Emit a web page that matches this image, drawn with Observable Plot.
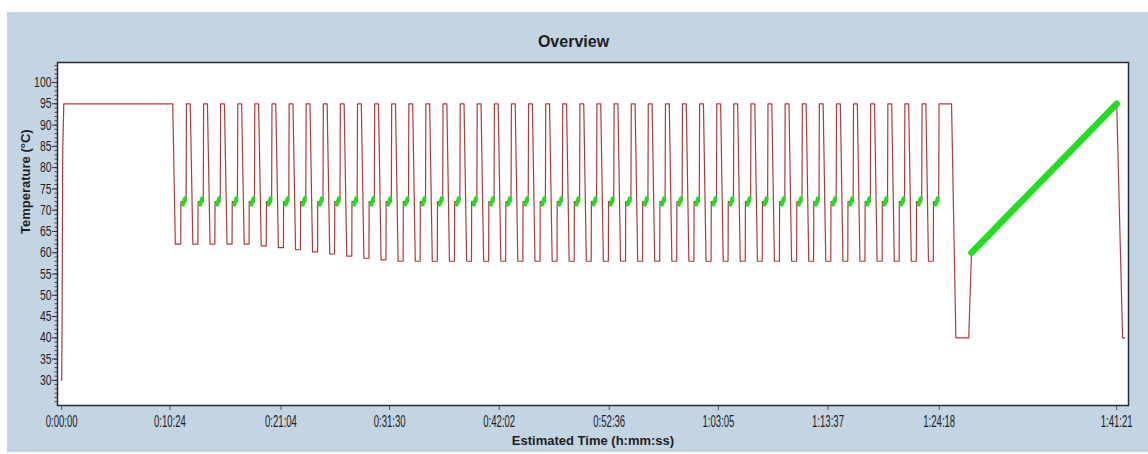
<!DOCTYPE html>
<html><head><meta charset="utf-8">
<script src="https://cdn.jsdelivr.net/npm/d3@7"></script>
<script src="https://cdn.jsdelivr.net/npm/@observablehq/plot@0.6"></script>
<style>
html,body{margin:0;padding:0;background:#fff;}
#panel{position:absolute;left:7px;top:12px;width:1141px;height:440px;background:#c3d5e3;}
#chart{position:absolute;left:0;top:0;width:1148px;height:454px;}
</style></head><body>
<div id="panel"></div><div id="chart"></div>
<script>
// ---- data (seconds, °C) ----
const xTickTimes = [0, 624, 1264, 1890, 2522, 3156, 3785, 4417, 5058, 6081];
const yTickValues = [30, 35, 40, 45, 50, 55, 60, 65, 70, 75, 80, 85, 90, 95, 100];
const yMinorValues = d3.range(25, 105);

const startTimes = [0, 2, 6, 12, 640];
const startTemps = [30, 42, 84, 95, 95];

// start time of each 95 °C denaturation step (45 cycles)
const peakStarts = [719, 818, 916, 1015, 1113, 1212, 1311, 1409, 1508, 1606,
  1705, 1804, 1902, 2001, 2099, 2198, 2297, 2395, 2494, 2592,
  2691, 2790, 2888, 2987, 3085, 3184, 3283, 3381, 3480, 3578,
  3677, 3776, 3874, 3973, 4071, 4170, 4269, 4367, 4466, 4564,
  4663, 4762, 4860, 4959, 5057];
// annealing temperature before each denaturation step (touchdown)
const annealTemps = [62, 62, 62, 62, 62, 61.6, 61.2, 60.7, 60.2, 59.7,
  59.2, 58.7, 58.3, 58, 58, 58, 58, 58, 58, 58,
  58, 58, 58, 58, 58, 58, 58, 58, 58, 58,
  58, 58, 58, 58, 58, 58, 58, 58, 58, 58,
  58, 58, 58, 58, 58];
const extensionTemp = 72;
const denatureTemp = 95;

const endTimes = [5129, 5154, 5228, 5244, 6081, 6115, 6127];
const endTemps = [95, 40, 40, 60, 95, 40, 40];

const meltTimes = [5244, 6081];
const meltTemps = [60, 95];

// ---- build tables ----
const profile = [];
startTimes.forEach((t, i) => profile.push({t, temp: startTemps[i]}));
let topEnd = startTimes[startTimes.length - 1];
peakStarts.forEach((P, i) => {
  const b = annealTemps[i];
  profile.push({t: topEnd + 15, temp: b});
  profile.push({t: P - 33, temp: b});
  profile.push({t: P - 32, temp: extensionTemp});
  profile.push({t: P - 2, temp: extensionTemp});
  profile.push({t: P, temp: denatureTemp});
  topEnd = P + 22;
  if (i < peakStarts.length - 1) profile.push({t: topEnd, temp: denatureTemp});
});
endTimes.forEach((t, i) => profile.push({t, temp: endTemps[i]}));

const reads = peakStarts.map(P => ({x1: P - 20, y1: extensionTemp - 0.7, x2: P - 8, y2: extensionTemp + 0.8}));
const melt = meltTimes.map((t, i) => ({t, temp: meltTemps[i]}));

const fmt = s => `${Math.floor(s / 3600)}:${String(Math.floor(s % 3600 / 60)).padStart(2, "0")}:${String(s % 60).padStart(2, "0")}`;

const svg = Plot.plot({
  width: 1148, height: 454,
  marginLeft: 57, marginRight: 20, marginTop: 62, marginBottom: 49,
  style: {background: "transparent", fontFamily: "'Liberation Sans', Arial, sans-serif", color: "#1e1e1e", overflow: "visible"},
  x: {domain: [-24.2, 6149], label: null},
  y: {domain: [24.1, 104.7], label: null},
  marks: [
    Plot.frame({fill: "white", stroke: null}),
    Plot.axisY(yMinorValues, {tickSize: 2.5, fill: "none", label: null, stroke: "#444"}),
    Plot.axisY(yTickValues, {tickSize: 5, tickPadding: 1, fontSize: 14.5, label: null, stroke: "#333"}),
    Plot.axisX(xTickTimes, {tickSize: 5, tickPadding: 4.5, fontSize: 16.5, tickFormat: fmt, label: null, stroke: "#555"}),
    Plot.line(profile, {x: "t", y: "temp", stroke: "#b03a3a", strokeWidth: 1.2}),
    Plot.link(reads, {x1: "x1", y1: "y1", x2: "x2", y2: "y2", stroke: "#22dd22", strokeWidth: 4, strokeLinecap: "round"}),
    Plot.line(melt, {x: "t", y: "temp", stroke: "#22dd22", strokeWidth: 6.5, strokeLinecap: "round"}),
    Plot.frame({stroke: "#2b2b2b", strokeWidth: 1.5}),
    Plot.text(["Overview"], {frameAnchor: "top", dx: -19.5, dy: -15.5, lineAnchor: "bottom", fontWeight: "bold", fontSize: 16, ariaLabel: "title"}),
    Plot.text(["Estimated Time (h:mm:ss)"], {frameAnchor: "bottom", dy: 39, lineAnchor: "bottom", fontWeight: "bold", fontSize: 13, ariaLabel: "xlabel"}),
    Plot.text(["Temperature (°C)"], {frameAnchor: "left", dx: -27.5, rotate: -90, lineAnchor: "bottom", fontWeight: "bold", fontSize: 13, ariaLabel: "ylabel"})
  ]
});
document.getElementById("chart").append(svg);

// horizontally condense the text along its own direction
function squeeze(sel, ratio) {
  svg.querySelectorAll(sel).forEach(t => {
    const x = +(t.getAttribute("x") || 0);
    const T = t.getAttribute("transform") || "";
    t.setAttribute("transform", `${T} translate(${x},0) scale(${ratio},1) translate(${-x},0)`);
  });
}
squeeze('g[aria-label="y-axis tick label"] text', 0.72);
squeeze('g[aria-label="x-axis tick label"] text', 0.58);
squeeze('g[aria-label="title"] text', 0.94);
squeeze('g[aria-label="xlabel"] text', 0.91);
squeeze('g[aria-label="ylabel"] text', 1.15);
</script>
</body></html>
